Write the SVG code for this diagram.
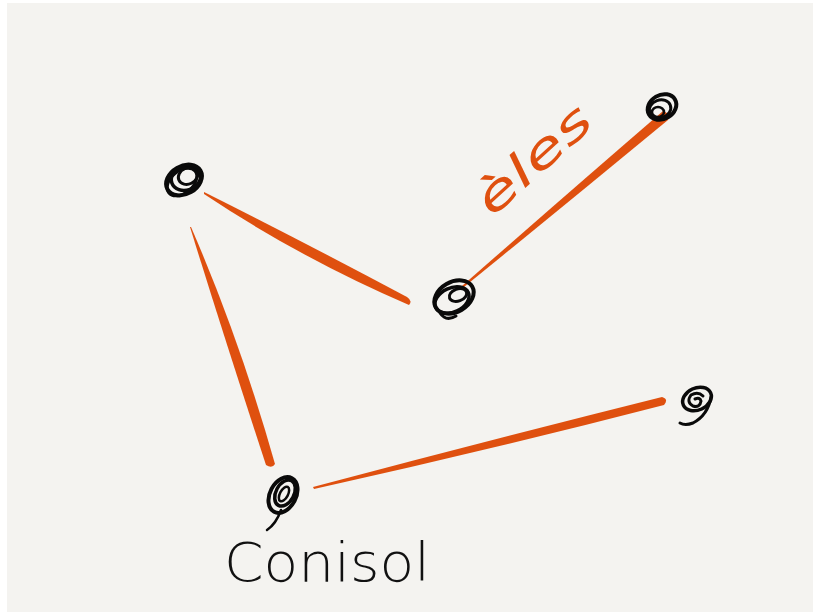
<svg xmlns="http://www.w3.org/2000/svg" width="817" height="615" viewBox="0 0 817 615">
  <style>
    .paper { fill: #f4f3f0; }
    .edge { fill: #df500f; }
    .scr { fill: none; stroke: #0a0a0a; stroke-linecap: round; }
    .lbl-edge { fill: #df500f; font-family: "DejaVu Sans", "Liberation Sans", sans-serif; font-style: italic; font-weight: 300; }
    .lbl-node { fill: #111; font-family: "DejaVu Sans", "Liberation Sans", sans-serif; font-weight: 300; }
  </style>
  <rect x="0" y="0" width="817" height="615" fill="#ffffff"/>
  <rect class="paper" x="7" y="3" width="806" height="609"/>

  <g id="connectors">
    <!-- A to B -->
    <path class="edge" d="M204,192 Q300,240 407,297 Q413,301 409,305 Q300,258 204,194 Z"/>
    <!-- A to E -->
    <path class="edge" d="M190,227 Q225,340 266,465 Q272,469 275,464 Q240,340 191,227 Z"/>
    <!-- E to D -->
    <path class="edge" d="M313,487 Q490,440 662,397 Q669,399 664,405 Q490,450 314,489 Z"/>
    <!-- B to C -->
    <path class="edge" d="M462,286 Q560,200 663,111 Q670,113 668,120 Q565,205 464,287 Z"/>
  </g>

  <g id="node-a">
    <ellipse class="scr" cx="184" cy="180" rx="19" ry="14" transform="rotate(-30 184 180)" stroke-width="4"/>
    <ellipse class="scr" cx="186" cy="178" rx="15" ry="12" transform="rotate(-20 186 178)" stroke-width="3.5"/>
    <ellipse class="scr" cx="188" cy="176" rx="10" ry="8" transform="rotate(-25 188 176)" stroke-width="3"/>
    <ellipse class="scr" cx="182" cy="182" rx="17" ry="11" transform="rotate(-40 182 182)" stroke-width="3"/>
  </g>

  <g id="node-b">
    <ellipse class="scr" cx="454" cy="297" rx="21" ry="15" transform="rotate(-30 454 297)" stroke-width="4"/>
    <ellipse class="scr" cx="452" cy="300" rx="18" ry="12" transform="rotate(-25 452 300)" stroke-width="3.5"/>
    <ellipse class="scr" cx="458" cy="295" rx="9" ry="6" transform="rotate(-20 458 295)" stroke-width="3"/>
    <path class="scr" d="M440,313 Q446,322 456,316" stroke-width="3"/>
  </g>

  <g id="node-c">
    <ellipse class="scr" cx="662" cy="107" rx="15" ry="12" transform="rotate(-30 662 107)" stroke-width="4"/>
    <ellipse class="scr" cx="660" cy="109" rx="11" ry="9" transform="rotate(-20 660 109)" stroke-width="3"/>
    <ellipse class="scr" cx="658" cy="112" rx="6" ry="5" stroke-width="2.5"/>
  </g>

  <g id="node-d">
    <ellipse class="scr" cx="697" cy="399" rx="15" ry="11" transform="rotate(-25 697 399)" stroke-width="3.5"/>
    <path class="scr" d="M703,396 Q698,391 691,395 Q686,402 693,406 Q700,408 701,401 Q700,397 695,399" stroke-width="3"/>
    <path class="scr" d="M711,397 Q708,415 693,423 Q685,426 680,423" stroke-width="3"/>
  </g>

  <g id="node-e">
    <ellipse class="scr" cx="283" cy="495" rx="19" ry="13" transform="rotate(-62 283 495)" stroke-width="4"/>
    <ellipse class="scr" cx="285" cy="493" rx="14" ry="9" transform="rotate(-62 285 493)" stroke-width="3.5"/>
    <ellipse class="scr" cx="284" cy="494" rx="8" ry="4" transform="rotate(-62 284 494)" stroke-width="2.5"/>
    <path class="scr" d="M281,510 Q276,524 267,530" stroke-width="2.5"/>
  </g>

  <g id="label-edge">
    <text class="lbl-edge" x="0" y="0" font-size="46" textLength="140" lengthAdjust="spacingAndGlyphs" transform="translate(492,218) rotate(-42)">èles</text>
  </g>
  <g id="label-node">
    <text class="lbl-node" x="224" y="581" font-size="54" textLength="206" lengthAdjust="spacingAndGlyphs">Conisol</text>
  </g>
</svg>
